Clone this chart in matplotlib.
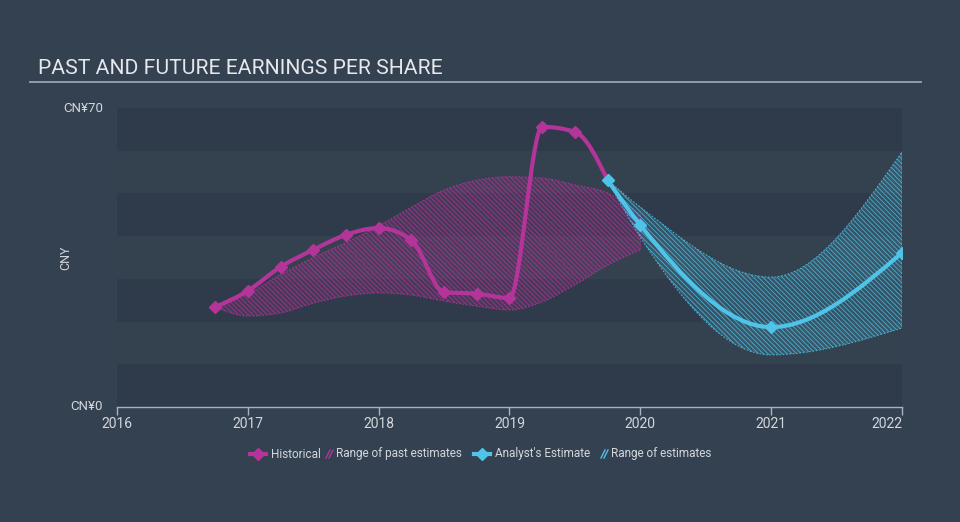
import numpy as np
import matplotlib.pyplot as plt
from matplotlib.path import Path
from matplotlib.patches import PathPatch
from matplotlib.lines import Line2D
from matplotlib.colors import to_rgb

# ---- data ----
hist_x = [2016.75, 2017.0, 2017.25, 2017.5, 2017.75, 2018.0, 2018.25, 2018.5,
          2018.75, 2019.0, 2019.25, 2019.5, 2019.75]
hist_y = [23.4, 27.2, 32.8, 36.8, 40.3, 41.9, 39.1, 26.9, 26.5, 25.5, 65.6, 64.4, 53.1]

past_x = [2016.75, 2017.0, 2017.25, 2017.5, 2017.75, 2018.0, 2018.25, 2018.5,
          2018.75, 2019.0, 2019.25, 2019.5, 2019.75, 2020.0]
past_hi = [23.4, 26.5, 31.0, 35.0, 38.5, 42.4, 46.8, 50.8, 53.1, 53.9, 53.6, 52.0, 50.1, 45.0]
past_lo = [23.4, 21.3, 22.0, 24.3, 26.0, 26.7, 26.2, 24.8, 23.6, 22.7, 24.6, 28.6, 33.2, 36.8]

est_x = [2019.75, 2020.0, 2021.0, 2022.0]
est_y = [53.1, 42.6, 18.7, 36.1]
est_hi = [53.1, 46.8, 30.4, 59.7]
est_lo = [53.1, 39.8, 12.2, 18.5]

years = [2016, 2017, 2018, 2019, 2020, 2021, 2022]
legend_labels = ["Historical", "Range of past estimates", "Analyst's Estimate", "Range of estimates"]

BG = "#344151"
BAND_DARK = "#2f3b4a"
BAND_LIGHT = "#34414f"
MAGENTA = "#b5349a"
BLUE = "#4fc3e8"
TXT = "#d3d7dc"


def monotone_path(xs, ys, reverse=False, start_new=True):
    # bezier segments like d3 curveMonotoneX
    xs = np.asarray(xs, float)
    ys = np.asarray(ys, float)
    n = len(xs)
    h = np.diff(xs)
    s = np.diff(ys) / h
    t = np.zeros(n)
    for i in range(1, n - 1):
        p = (s[i - 1] * h[i] + s[i] * h[i - 1]) / (h[i - 1] + h[i])
        t[i] = (np.sign(s[i - 1]) + np.sign(s[i])) * min(abs(s[i - 1]), abs(s[i]), 0.5 * abs(p))
    t[0] = (3 * s[0] - t[1]) / 2
    t[-1] = (3 * s[-1] - t[-2]) / 2
    segs = []
    for i in range(n - 1):
        dx = h[i] / 3
        segs.append(((xs[i], ys[i]), (xs[i] + dx, ys[i] + dx * t[i]),
                     (xs[i + 1] - dx, ys[i + 1] - dx * t[i + 1]), (xs[i + 1], ys[i + 1])))
    if reverse:
        segs = [(d, c, b, a) for (a, b, c, d) in segs[::-1]]
    verts = [segs[0][0]]
    codes = [Path.MOVETO if start_new else Path.LINETO]
    for seg in segs:
        verts += [seg[1], seg[2], seg[3]]
        codes += [Path.CURVE4] * 3
    return verts, codes


def band_patch(xs, hi, lo, color):
    v1, c1 = monotone_path(xs, hi)
    v2, c2 = monotone_path(xs, lo, reverse=True, start_new=False)
    verts = v1 + v2 + [v1[0]]
    codes = c1 + c2 + [Path.CLOSEPOLY]
    return PathPatch(Path(verts, codes), facecolor=(*to_rgb(color), 0.18),
                     edgecolor=(*to_rgb(color), 0.8),
                     hatch="\\" * 7, linewidth=0.8, linestyle=(0, (1.5, 1.5)))


def line_patch(xs, ys, color):
    v, c = monotone_path(xs, ys)
    return PathPatch(Path(v, c), facecolor="none", edgecolor=color, linewidth=3,
                     capstyle="round", joinstyle="round")


plt.rcParams["font.family"] = ["Roboto", "DejaVu Sans"]
plt.rcParams["hatch.linewidth"] = 0.6

fig = plt.figure(figsize=(9.6, 5.22), dpi=100, facecolor=BG)
ax = fig.add_axes([117 / 960, 115 / 522, 785 / 960, 299 / 522])
ax.set_facecolor(BAND_DARK)
ax.set_xlim(2016, 2022)
ax.set_ylim(0, 70)

for k in range(7):
    ax.axhspan(k * 10, (k + 1) * 10, color=BAND_DARK if k % 2 == 0 else BAND_LIGHT,
               lw=0, zorder=0)

ax.add_patch(band_patch(past_x, past_hi, past_lo, MAGENTA))
ax.add_patch(band_patch(est_x, est_hi, est_lo, BLUE))

ax.add_patch(line_patch(hist_x, hist_y, MAGENTA))
ax.plot(hist_x, hist_y, "D", color=MAGENTA, markersize=6.5, lw=0, zorder=5)
ax.add_patch(line_patch(est_x, est_y, BLUE))
ax.plot(est_x, est_y, "D", color=BLUE, markersize=6.5, lw=0, zorder=6)

for sp in ["top", "right", "left"]:
    ax.spines[sp].set_visible(False)
ax.spines["bottom"].set_color("#a9b3bd")
ax.spines["bottom"].set_linewidth(1)
ax.set_xticks(years)
ax.set_xticklabels([str(y) for y in years], color=TXT, fontsize=10)
ax.get_xticklabels()[-1].set_horizontalalignment("right")
ax.tick_params(axis="x", colors="#a9b3bd", length=6, width=1, pad=1, labelcolor=TXT)
ax.set_yticks([])

fig.text(103 / 960, 1 - 108 / 522, "CN¥70", color=TXT, fontsize=9.5, ha="right", va="center")
fig.text(103 / 960, 1 - 406 / 522, "CN¥0", color=TXT, fontsize=9.5, ha="right", va="center")
fig.text(66 / 960, 1 - 258 / 522, "CNY", color=TXT, fontsize=9, rotation=90, ha="center", va="center")

fig.text(38 / 960, 1 - 69 / 522, "PAST AND FUTURE EARNINGS PER SHARE", color="#e6e8eb",
         fontsize=15.2, ha="left", va="center")
fig.add_artist(Line2D([30 / 960, 921 / 960], [1 - 81.5 / 522] * 2, color="#9aa4ae", lw=1.3))

# legend, drawn by hand in figure pixels
ly = 1 - 454 / 522


def px(x):
    return x / 960


def marker_icon(x0, x1, color):
    fig.add_artist(Line2D([px(x0), px(x1)], [ly, ly], color=color, lw=3))
    fig.add_artist(Line2D([px((x0 + x1) / 2)], [ly], color=color, marker="D", markersize=6.5, lw=0))


def hatch_icon(x0, color):
    for dx in (0, 3):
        fig.add_artist(Line2D([px(x0 + dx), px(x0 + dx + 4)], [ly - 4 / 522, ly + 4 / 522],
                              color=color, lw=1))


marker_icon(250, 266, MAGENTA)
fig.text(px(271), ly, legend_labels[0], color=TXT, fontsize=8.5, ha="left", va="center")
hatch_icon(326, MAGENTA)
fig.text(px(336), ly, legend_labels[1], color=TXT, fontsize=8.5, ha="left", va="center")
marker_icon(474, 490, BLUE)
fig.text(px(495), ly, legend_labels[2], color=TXT, fontsize=8.5, ha="left", va="center")
hatch_icon(601, BLUE)
fig.text(px(611), ly, legend_labels[3], color=TXT, fontsize=8.5, ha="left", va="center")

fig.savefig("out.png", dpi=100, facecolor=BG)
